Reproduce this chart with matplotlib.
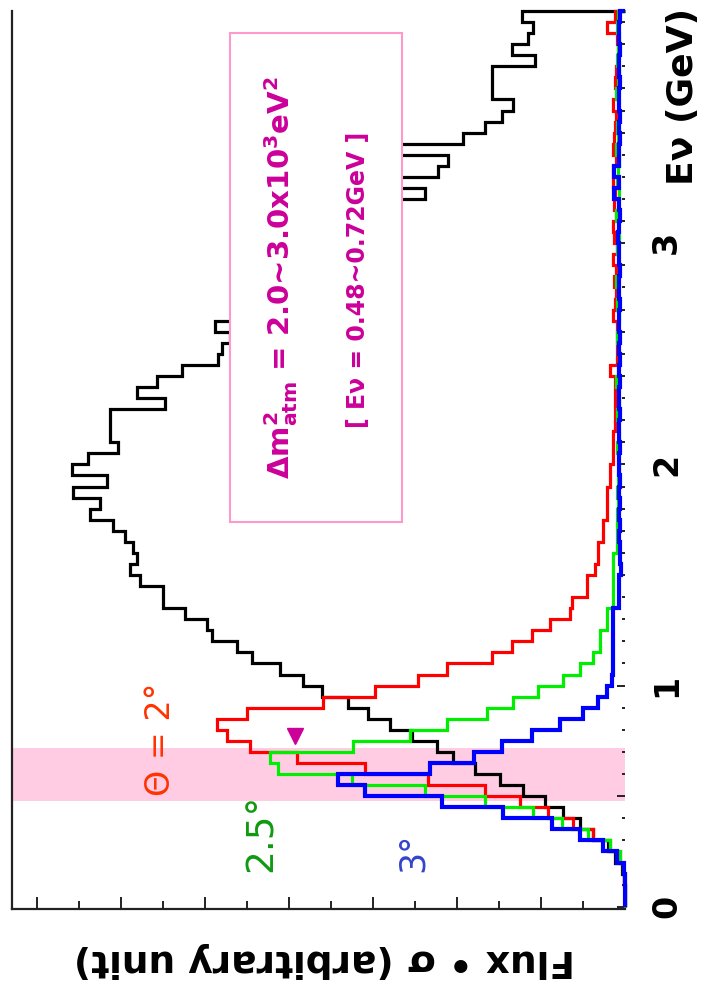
import numpy as np
import matplotlib
matplotlib.use("Agg")
import matplotlib.pyplot as plt
from matplotlib.patches import Rectangle
from matplotlib.ticker import MultipleLocator, FuncFormatter

# Energy binning (GeV)
bin_width = 0.05
energy_edges = np.arange(82) * bin_width

# Flux x cross-section (arbitrary unit), one value per 0.05 GeV bin
flux_all = [
    0, 0, 0.02, 0.07, 0.24, 0.40, 0.76, 1.07, 1.48, 1.90,
    2.43, 2.98, 3.57, 4.10, 4.48, 5.07, 5.60, 6.12, 6.60, 7.21,
    7.67, 8.21, 8.88, 9.24, 9.83, 9.95, 10.48, 11.00, 11.00, 11.55,
    11.79, 11.62, 11.71, 11.90, 12.19, 12.74, 12.50, 13.14, 12.33, 13.17,
    12.79, 12.07, 12.26, 12.26, 12.26, 10.95, 11.62, 11.14, 10.55, 9.69,
    9.60, 9.40, 9.76, 9.17, 8.81, 8.45, 8.10, 7.74, 7.38, 7.02,
    6.67, 6.31, 5.95, 5.48, 4.76, 5.48, 4.45, 4.21, 5.48, 3.86,
    3.33, 2.93, 2.67, 3.17, 3.17, 3.17, 2.14, 2.69, 2.30, 2.19,
    2.45,
]
flux_2deg = [
    0, 0, 0.02, 0.05, 0.12, 0.36, 0.76, 1.24, 1.83, 2.50,
    3.33, 4.69, 6.19, 7.81, 8.93, 9.48, 9.71, 9.00, 7.19, 5.95,
    4.93, 4.24, 3.17, 2.69, 2.21, 1.79, 1.31, 1.26, 0.90, 0.90,
    0.71, 0.64, 0.64, 0.52, 0.52, 0.43, 0.43, 0.43, 0.36, 0.36,
    0.29, 0.29, 0.29, 0.24, 0.24, 0.24, 0.24, 0.24, 0.36, 0.19,
    0.19, 0.19, 0.19, 0.29, 0.24, 0.22, 0.26, 0.21, 0.29, 0.20,
    0.26, 0.29, 0.22, 0.26, 0.24, 0.29, 0.28, 0.22, 0.29, 0.26,
    0.24, 0.21, 0.29, 0.19, 0.24, 0.22, 0.17, 0.17, 0.20, 0.43,
    0.24,
]
flux_25deg = [
    0, 0, 0.01, 0.05, 0.12, 0.36, 0.88, 1.50, 2.19, 3.33,
    4.76, 6.50, 8.26, 8.45, 6.48, 5.12, 4.24, 3.29, 2.67, 2.07,
    1.48, 1.07, 0.76, 0.60, 0.60, 0.43, 0.43, 0.29, 0.29, 0.29,
    0.29, 0.29, 0.19, 0.19, 0.19, 0.19, 0.17, 0.19, 0.17, 0.15,
    0.17, 0.19, 0.15, 0.17, 0.19, 0.15, 0.17, 0.21, 0.17, 0.15,
    0.17, 0.19, 0.17, 0.15, 0.19, 0.17, 0.21, 0.15, 0.17, 0.19,
    0.15, 0.17, 0.21, 0.17, 0.15, 0.19, 0.17, 0.15, 0.21, 0.17,
    0.19, 0.15, 0.17, 0.21, 0.17, 0.15, 0.19, 0.17, 0.15, 0.19,
    0.17,
]
flux_3deg = [
    0, 0, 0.01, 0.02, 0.19, 0.52, 1.07, 1.74, 2.90, 4.36,
    6.19, 6.83, 4.64, 3.60, 2.93, 2.21, 1.55, 1.00, 0.64, 0.43,
    0.31, 0.29, 0.29, 0.29, 0.29, 0.29, 0.29, 0.14, 0.14, 0.14,
    0.10, 0.12, 0.12, 0.14, 0.12, 0.14, 0.12, 0.14, 0.12, 0.14,
    0.14, 0.12, 0.14, 0.14, 0.12, 0.14, 0.14, 0.12, 0.14, 0.12,
    0.14, 0.12, 0.14, 0.14, 0.12, 0.14, 0.14, 0.12, 0.14, 0.14,
    0.17, 0.14, 0.12, 0.14, 0.26, 0.14, 0.26, 0.14, 0.14, 0.12,
    0.14, 0.12, 0.14, 0.14, 0.12, 0.14, 0.14, 0.12, 0.14, 0.14,
    0.12,
]

band_range = (0.48, 0.72)
peak_marker = (7.86, 0.77)

plt.rcParams["mathtext.default"] = "regular"

fig = plt.figure(figsize=(7.11, 9.95), dpi=100)
# axes: flux runs right-to-left, energy runs bottom-to-top (rotated frame)
ax = fig.add_axes([12 / 711, 85 / 995, 613 / 711, 898 / 995])
ax.set_xlim(14.6, 0)
ax.set_ylim(-0.01, 4.05)

ax.axhspan(*band_range, color="#ffcce4", lw=0, zorder=0)

ax.stairs(flux_all, energy_edges, orientation="horizontal",
          color="black", lw=2.3, zorder=3, clip_on=False)
ax.stairs(flux_2deg, energy_edges, orientation="horizontal",
          color="#ff0000", lw=2.3, zorder=4, clip_on=False)
ax.stairs(flux_25deg, energy_edges, orientation="horizontal",
          color="#00ee00", lw=2.3, zorder=5, clip_on=False)
ax.stairs(flux_3deg, energy_edges, orientation="horizontal",
          color="#0000ff", lw=3.0, zorder=6, clip_on=False)

ax.plot(*peak_marker, marker="v", ms=12, color="#cc0099", zorder=7)

# info box
ax.add_patch(Rectangle((5.31, 1.74), 4.09, 2.21, fc="white",
                       ec="#ff99cc", lw=1.5, zorder=8))
ax.text(8.19, 2.85,
        r"$\Delta m^2_{atm}$ = 2.0~3.0x10$^3$eV$^2$",
        rotation=90, ha="center", va="center", fontsize=21,
        fontweight="bold", color="#cc0099", zorder=9)
ax.text(6.36, 2.84, "[ Eν = 0.48~0.72GeV ]",
        rotation=90, ha="center", va="center", fontsize=17,
        fontweight="bold", color="#cc0099", zorder=9)

ax.text(11.07, 0.76, "Θ = 2°", rotation=90, ha="center", va="center",
        fontsize=24, color="#ff3300", zorder=9)
ax.text(8.64, 0.34, "2.5°", rotation=90, ha="center", va="center",
        fontsize=27, color="#119911", zorder=9)
ax.text(5.05, 0.25, "3°", rotation=90, ha="center", va="center",
        fontsize=25, color="#3344cc", zorder=9)

for side in ["top", "right"]:
    ax.spines[side].set_visible(False)
for side in ["left", "bottom"]:
    ax.spines[side].set_linewidth(1.6)
    ax.spines[side].set_color("#222222")

ax.xaxis.set_major_locator(MultipleLocator(2))
ax.xaxis.set_minor_locator(MultipleLocator(1))
ax.tick_params(axis="x", which="both", direction="in", labelbottom=False,
               width=1.4, color="#222222")
ax.tick_params(axis="x", which="major", length=9)
ax.tick_params(axis="x", which="minor", length=6)

ax.yaxis.tick_right()
ax.yaxis.set_major_locator(MultipleLocator(0.5))
ax.yaxis.set_minor_locator(MultipleLocator(0.1))
ax.yaxis.set_major_formatter(
    FuncFormatter(lambda v, _: f"{int(round(v))}" if abs(v - round(v)) < 1e-6 and v < 3.5 else ""))
ax.tick_params(axis="y", which="both", direction="in", left=False, right=True,
               width=1.4, color="#222222")
ax.tick_params(axis="y", which="major", length=6, pad=18,
               labelsize=24, labelrotation=90)
ax.tick_params(axis="y", which="minor", length=2.5)
for lab in ax.get_yticklabels():
    lab.set_fontweight("bold")

fig.text(683 / 711, 1 - 185 / 995, "Eν (GeV)", rotation=90,
         rotation_mode="anchor", ha="left", va="center",
         fontsize=26, fontweight="bold")
fig.text(324 / 711, 1 - 960 / 995, "Flux • σ (arbitrary unit)", rotation=180,
         ha="center", va="center", fontsize=27, fontweight="bold")

fig.savefig("out.png", dpi=100)
